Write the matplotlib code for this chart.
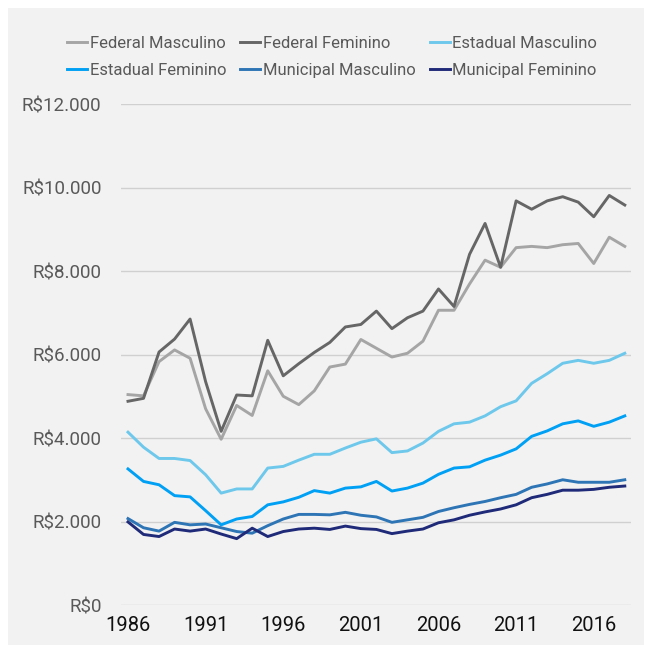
import numpy as np
import matplotlib.pyplot as plt
from matplotlib.patches import Rectangle

plt.rcParams['font.family'] = ['Roboto', 'DejaVu Sans']

# Anos da série
anos = np.arange(1986, 2019)

# Rendimento médio (R$) por esfera e sexo
federal_masc = [5040, 5010, 5830, 6110, 5910, 4700, 3970, 4780, 4540, 5610,
                5000, 4800, 5130, 5700, 5770, 6360, 6150, 5940, 6030, 6320,
                7060, 7060, 7690, 8260, 8090, 8560, 8590, 8560, 8630, 8660,
                8180, 8810, 8590]
federal_fem = [4880, 4950, 6060, 6370, 6850, 5350, 4160, 5030, 5010, 6340,
               5490, 5780, 6050, 6290, 6660, 6720, 7040, 6620, 6880, 7040,
               7570, 7150, 8400, 9140, 8090, 9680, 9480, 9680, 9780, 9650,
               9300, 9810, 9580]
estadual_masc = [4140, 3780, 3510, 3510, 3460, 3120, 2680, 2780, 2780, 3280,
                 3320, 3470, 3610, 3610, 3760, 3900, 3980, 3650, 3690, 3880,
                 4160, 4340, 4380, 4530, 4750, 4890, 5310, 5540, 5790, 5860,
                 5790, 5860, 6030]
estadual_fem = [3260, 2960, 2880, 2620, 2590, 2260, 1920, 2060, 2120, 2400,
                2470, 2580, 2740, 2680, 2800, 2830, 2960, 2730, 2800, 2920,
                3130, 3280, 3310, 3470, 3590, 3740, 4040, 4170, 4340, 4410,
                4280, 4380, 4530]
municipal_masc = [2070, 1850, 1770, 1980, 1920, 1940, 1850, 1760, 1720, 1900,
                  2060, 2170, 2170, 2160, 2220, 2150, 2110, 1980, 2040, 2100,
                  2240, 2330, 2410, 2480, 2570, 2650, 2820, 2900, 3000, 2940,
                  2940, 2940, 3000]
municipal_fem = [1990, 1690, 1640, 1820, 1770, 1820, 1700, 1590, 1840, 1640,
                 1760, 1820, 1840, 1810, 1890, 1830, 1810, 1710, 1770, 1820,
                 1970, 2040, 2150, 2230, 2300, 2400, 2570, 2650, 2750, 2750,
                 2770, 2820, 2850]

series = [
    ('Federal Masculino', federal_masc, '#A5A5A5'),
    ('Federal Feminino', federal_fem, '#666666'),
    ('Estadual Masculino', estadual_masc, '#6DC8EC'),
    ('Estadual Feminino', estadual_fem, '#00A0F5'),
    ('Municipal Masculino', municipal_masc, '#2E75B6'),
    ('Municipal Feminino', municipal_fem, '#1F2A78'),
]

fig = plt.figure(figsize=(6.52, 6.53), dpi=100, facecolor='white')
fig.add_artist(Rectangle((8 / 652, 8 / 653), 636 / 652, 637 / 653,
                         transform=fig.transFigure, facecolor='#F2F2F2',
                         edgecolor='none', zorder=0))
ax = fig.add_axes([0.1856, 0.0735, 0.7822, 0.7672])
ax.set_facecolor('#F2F2F2')

linhas = []
for nome, valores, cor in series:
    ln, = ax.plot(anos, valores, color=cor, lw=2.1, label=nome)
    linhas.append(ln)

ax.set_ylim(0, 12000)
ax.set_xlim(1985.55, 2018.4)
ax.set_yticks(np.arange(0, 12001, 2000))
ax.set_yticklabels(['R$' + f'{v:,}'.replace(',', '.') for v in range(0, 12001, 2000)])
ax.set_xticks(np.arange(1986, 2017, 5))
ax.grid(axis='y', color='#D0D0D0', lw=1)
ax.set_axisbelow(True)
for s in ax.spines.values():
    s.set_visible(False)
ax.tick_params(axis='y', length=0, pad=14, labelsize=13.5, labelcolor='#595959')
ax.tick_params(axis='x', length=0, pad=8, labelsize=14.5, labelcolor='#111111')

# legenda em linhas: a ordem abaixo preenche coluna a coluna
ordem = [0, 3, 1, 4, 2, 5]
leg = ax.legend([linhas[i] for i in ordem], [series[i][0] for i in ordem],
                loc='center', bbox_to_anchor=(332 / 652, 1 - 57 / 653),
                bbox_transform=fig.transFigure, ncol=3, frameon=False,
                fontsize=12, handlelength=1.2, handletextpad=0.15,
                columnspacing=0.85, labelspacing=0.7)
for t in leg.get_texts():
    t.set_color('#595959')

fig.savefig('out.png', dpi=100, facecolor=fig.get_facecolor())
